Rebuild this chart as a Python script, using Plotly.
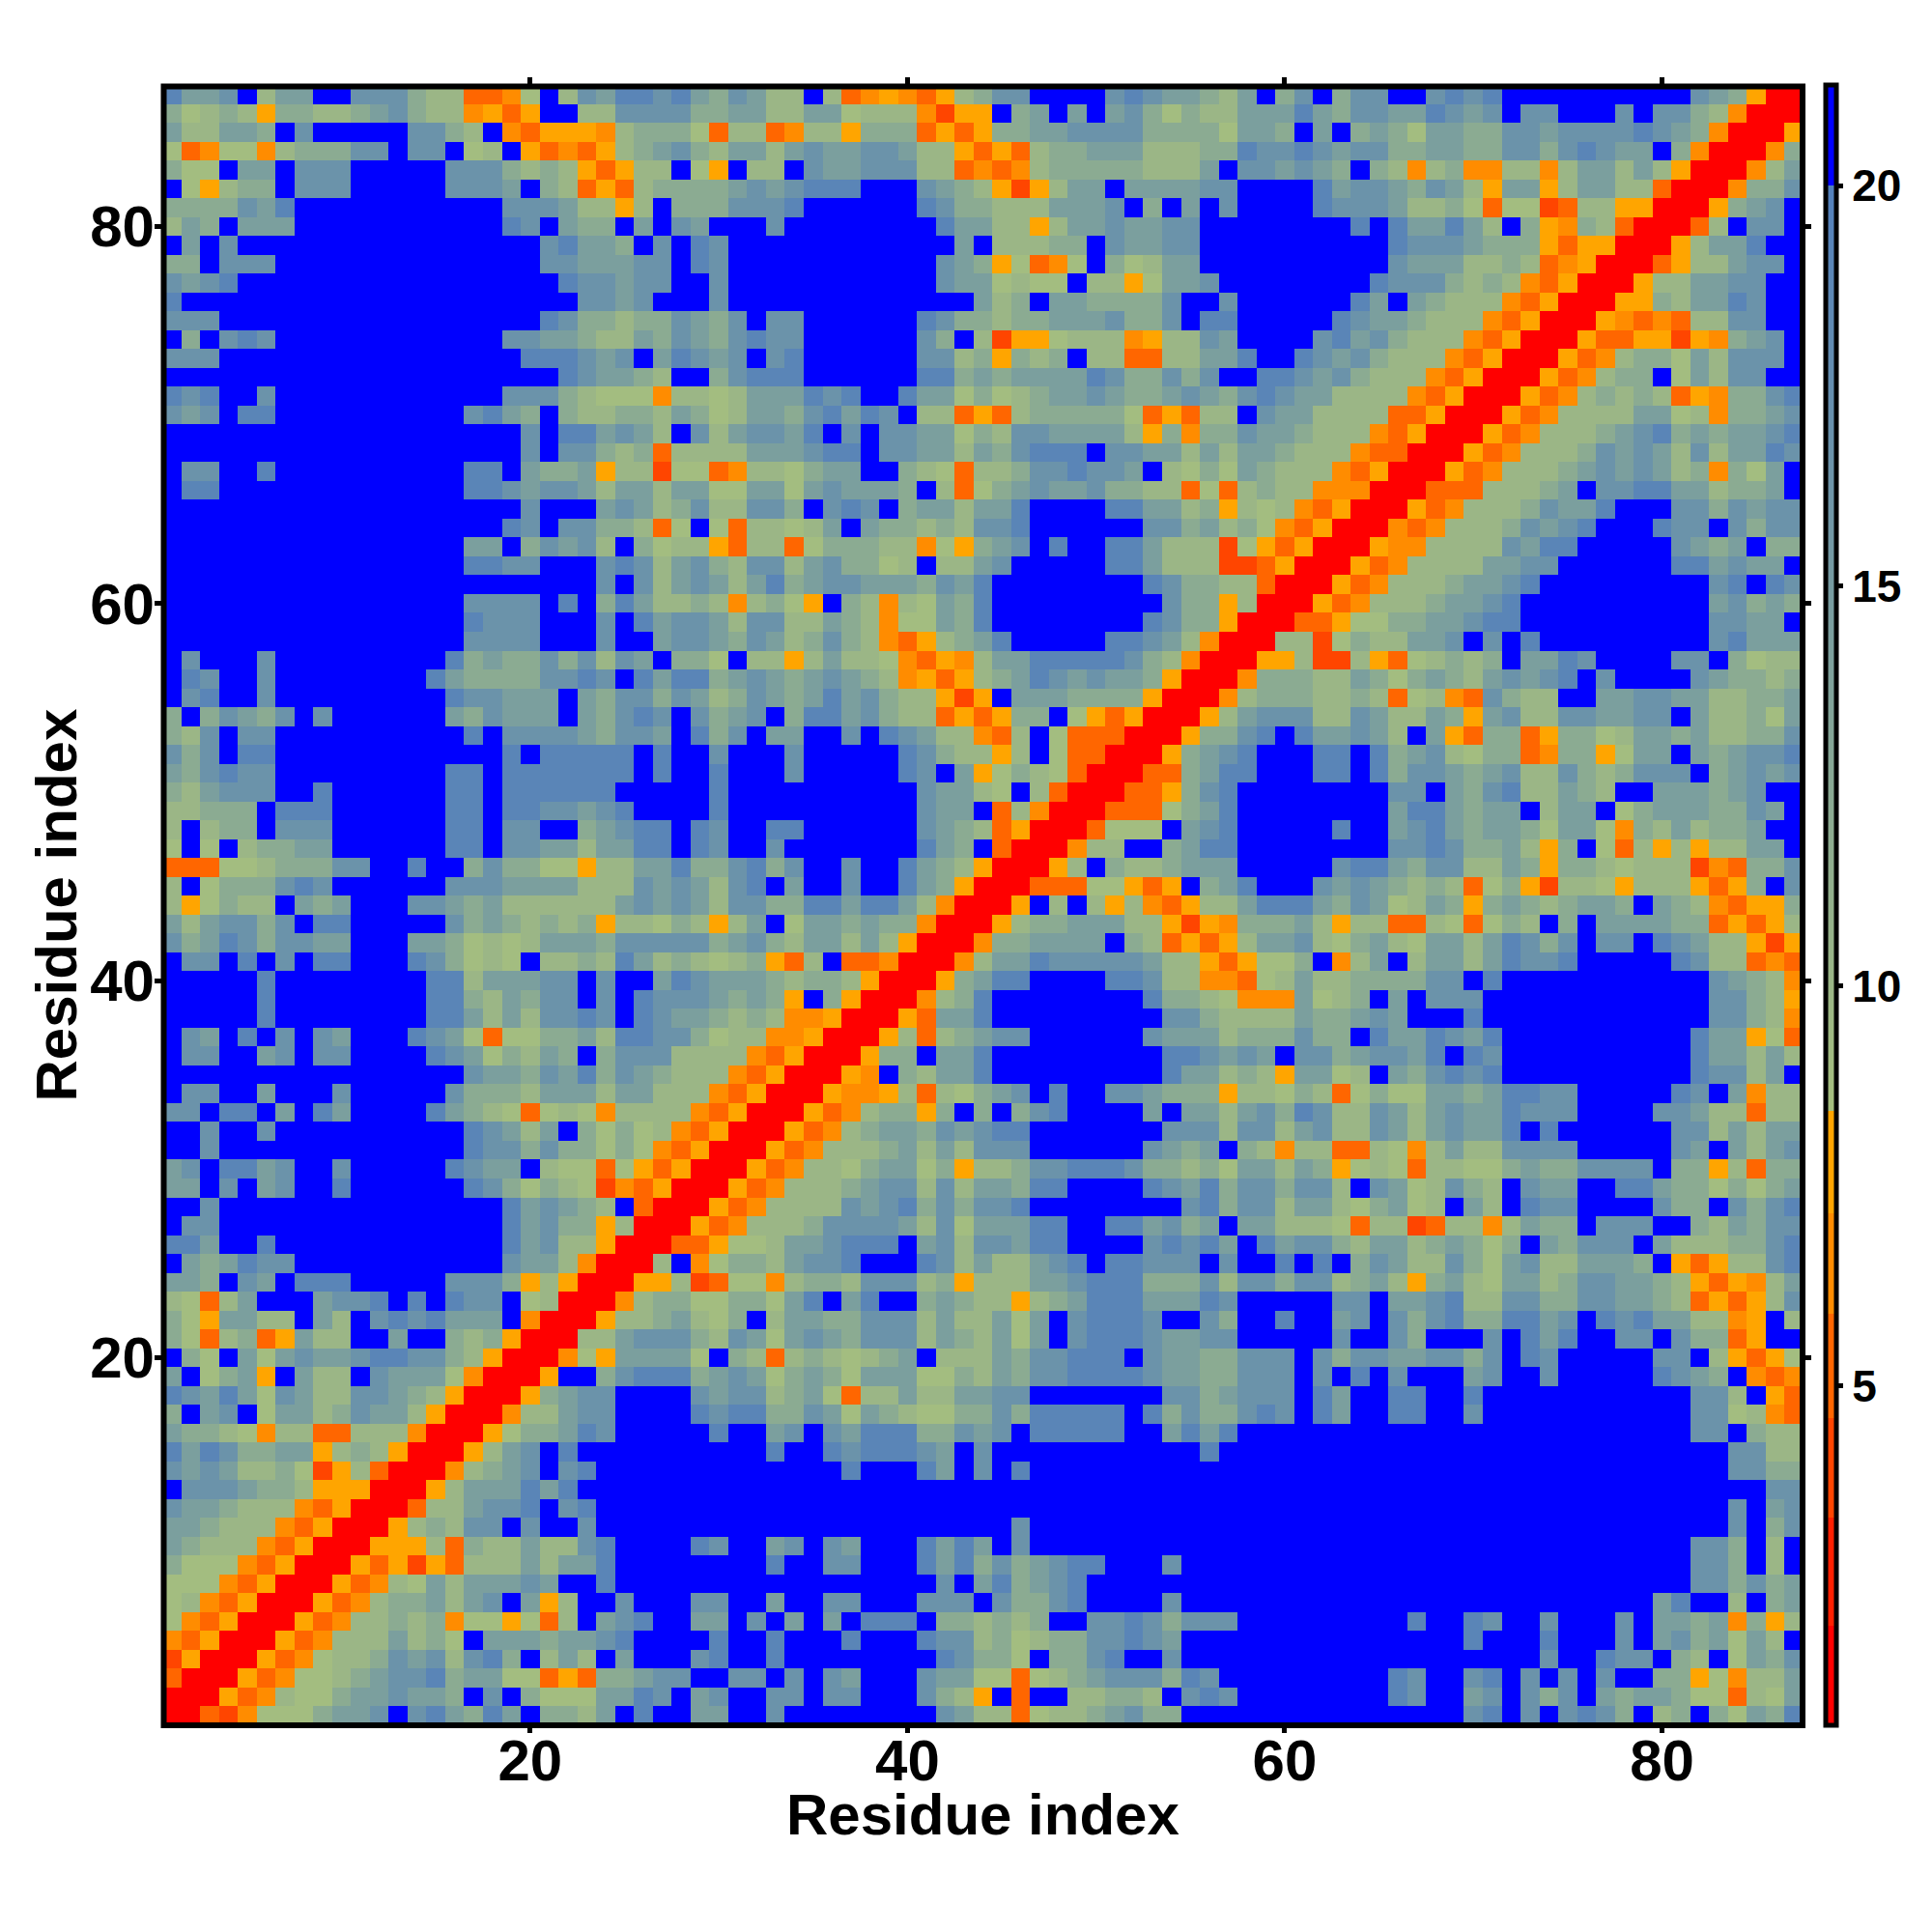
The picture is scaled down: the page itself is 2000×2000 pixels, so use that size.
import re
import plotly.graph_objects as go

residues = list(range(1, 88))
tick_vals = [20, 40, 60, 80]
colorbar_ticks = [5, 10, 15, 20]
z_range = [0.76, 21.26]

# Distance classes (angstrom-like values of the colour bar)
class_values = {"R": 1.4, "q": 4.0, "r": 5.2, "o": 6.5, "y": 7.8,
                "a": 8.8, "b": 10.0, "c": 12.2, "d": 14.4, "e": 16.6, "f": 19.0, "B": 21.0}

# Colour bands of the bar: (upper limit, colour)
band_limits = [2.0, 3.35, 4.6, 5.9, 7.16, 8.44]
band_colors = ["#ff0000", "#ff2000", "#ff4500", "#ff6600", "#ff8c00", "#ffa500"]
green_start = "#a6bf7e"
steel_end = "#5380bc"
blue_top = "#0000ff"
blue_from = 20.0

# Rows 87 down to 1, columns 1..row; letter + repeat count. The matrix is symmetric.
rows_top_down = [
 "f d2 e B b d2 B2 e3 c b2 r2 o a B b e d f2 e f d c e d b2 B b r o y o r y b c e2 B4 e f e d2 c b d B c e B c e2 B2 e f e f B10 e d c y R2",
 "c a b c b y c2 b2 c d e c b2 o y r y B2 b2 e4 c c d2 b2 d2 a b3 o q y2 B c d B d B d e c a c b2 d d2 f d c e2 d2 f e d e B e2 B3 e B e2 c b o R2",
 "d b2 d2 c B e B5 e2 c b B o r y3 o b c3 a r b2 r o b2 y c3 r y r y c2 d2 e4 c4 a d d c B d B c d c a d2 c2 e2 d e e3 f e d c o R2",
 "a r o a2 o b c3 e2 B e2 B a b B y r o r y b c d e c b d2 b d e d2 e2 d b2 y r y r b c2 d3 b3 c2 f e2 f e d e2 c2 d2 c2 e2 c e f e d2 B c o R2",
 "c a2 B d2 B e3 B5 e3 c b c b y r y b2 B a y B b2 B e d2 e3 b2 r o r o b c5 b3 d B e e d e d c B c b o b c o2 b2 o b d2 b d b y R2",
 "B a y b c2 B e3 B5 e3 d B c b r y r b c3 c d e d e f3 B3 e d c b y q y b d2 B d4 e2 B B3 f d e2 d c e d b y d2 y b d2 b2 r R2",
 "c4 e d f B11 e3 d b2 y b B c2 c e3 f B6 f e c2 b3 d3 e B c B d B e B B3 f e3 d b2 c a r a2 q r b2 y2 R2",
 "b d c B d3 B11 f e B d c2 B d B e d B3 e B8 f d2 b2 y b d2 e d2 e2 B3 B5 f B f d2 f d b B c y o c b r R2",
 "B d B e B16 e f d2 c B e B f e B12 d B b3 c2 B e d2 e2 B3 B7 f e2 e d c3 y r y2 R2",
 "c2 B e3 B14 e2 d3 e2 B f e B11 e d c y a r o a B c a b d2 B3 B7 e d3 b2 c b r o y R2",
 "e d e f B17 f e2 d e2 B2 e B11 e d2 a b a2 B b2 y a d2 e B2 B6 f e3 c b c b o r y R2",
 "f B21 e2 d e B3 e B13 d b c B d2 c2 c2 e B2 e B B5 f d B d c b3 o r y R2",
 "e3 B17 f e c2 b c2 e d c e B e2 B6 f e c2 b c2 d3 e c2 e B f2 B B4 f e d2 c b3 o r y R2",
 "B c B e f e B12 e2 d2 c b2 d c e d c e f e2 B6 e c B b q y2 a b3 o y b2 e d B B3 e f d e c b3 o r y R2",
 "e3 B16 f3 e d e B d f e d e B e f B6 e2 b c y c b c B b2 r2 b2 d2 f B2 f e d e c b3 o r y R2",
 "B21 f e d2 c b B2 c e f3 B6 f2 c d c d4 f e c2 e c e B2 f2 e d e c b3 o r y R2",
 "f e f B2 e B12 e3 c b a3 o b2 a b d3 f e f B2 f d2 a c a b c d2 e d c2 d e d c e f e d2 b4 o r y R2",
 "e d e B f2 B10 e f d c B c b2 c2 b d c a b d2 c e f d f e B b2 r y r b c5 a r y r b2 B e d2 b4 r2 y R2",
 "B19 e B f2 d e d b B e b d e2 d f B e B e2 d2 a c b e2 d4 b y c o c2 e d2 c b3 o r y R2",
 "B19 e B e2 c b c r b2 b2 d3 e f2 B e2 d2 b d c e f3 B e2 d2 b d b d d c b3 o r2 R2",
 "B e2 B2 f B10 f2 B d c2 d y b2 q a2 r o b2 a c d2 B2 c b a r b2 c e2 f e e d B b a c a d c b3 o r y R2",
 "B f2 B13 f2 e d e2 d b d2 b d2 a2 d2 a d e d3 c B b r a c d e d2 e c2 b2 r a r b c b2 o3 R2",
 "B19 e B3 d e d b c e b2 e2 c B e f e B c d2 b d2 f B4 f2 d2 b c y b a b o r y R2",
 "B18 f e B e2 c2 b r a B a r b2 a b d B d c2 b c b e2 f B6 e2 c d b c a o r y R2",
 "B16 d2 B c e d e b B c a b2 y r b2 r a c3 b2 o a y c d e B f B2 f2 d b3 q a y r y R2",
 "B16 f2 e2 B3 e f e b d e c b e2 b d e c2 a b B b2 d e B5 f2 d b3 q2 r y R2",
 "B23 e B e b d e d b d f c d e2 d3 c e d f B8 f e c2 b2 r R2",
 "B16 e4 B f B c f d b2 c b o b c a y B c b o b a d c f B9 e c2 y b R2",
 "B16 f e3 B3 e B f d e2 d b e2 b2 d c b o a2 d c f B8 f e c2 y R2",
 "B16 e4 B3 e B2 d e2 d c e d b c e c b o r y b c d f B5 f2 e d b o R2",
 "B e B3 e B9 f c d c2 e c e b e d B c2 a B b2 y b d b2 a o r y o b d2 f5 e c b o R2",
 "B f e B2 e B8 f d c4 e2 f e B f d f2 c d e d c d e d c b o y r y b c d f e d e d2 c y R2",
 "B e f B2 e B9 f e2 d3 B d c e2 c e d b c e d c d f d e c b2 y q y B d3 c4 y R2",
 "c B c e d c e B e B6 d c e d3 B d c e f e B e c d e B c f2 d e c b2 r y r y c2 B a y r y R2",
 "c b e B e2 B10 f B e4 d c e2 d B f c e B d2 B2 e B f e d b2 o r b B a r3 R2",
 "e c e B f2 B12 f B f5 B f B2 e B3 e B5 f e c b2 y b B a r2 R2",
 "d c e f e2 B9 f2 B f7 B f B2 f B3 e B5 f e B d y a c b a r R2",
 "c b d e3 B2 f B6 f2 B f6 B5 f B10 e d2 b a B b r R2",
 "b2 c3 B f3 B6 f2 B f2 e2 d e f B4 f B10 e d2 B r b o R2",
 "b B b c2 B e3 B6 f2 B e2 B2 c d e f2 B f e B2 f2 B6 e d c b r y R2",
 "a B a B b c2 d2 B6 f2 B e2 d2 b d2 f2 B f e B2 e B7 f d c B r R2",
 "r3 a2 b c2 c e2 B2 f B2 c e c2 a2 y b2 d2 f c c e f c e B2 e B2 f d c b y R2",
 "b B a c3 e f e B6 e3 d4 b3 e d e d b e f B d B2 e B2 f d c y R2",
 "b y a c b2 B d c d B3 e2 d c d b6 d e d e d b e2 c2 f2 d f2 d b o R2",
 "d b d e2 c e B f2 B5 e c d c b c b c y b2 a c b y b d B a d2 c d c2 o R2",
 "e c d f e c e2 d2 B3 d2 c a b a b d3 c e5 c d e c b d2 b d b y R2",
 "B e2 B f B e B f2 B3 f e c a b a B b2 c b f d b c b a b c y r b B r2 o R2",
 "B5 f B8 f2 b d3 e2 B e B2 d f e d3 c b c2 b y R2",
 "B5 f B8 f2 c b d c e2 B e B f e3 d c d c y B c y R2",
 "B5 f B8 f2 d b d b e2 f e B f e d2 c b c b o2 y R2",
 "B e d B f B e B e d B3 f e d a r a2 c2 d b f2 e2 c a b2 o2 y R2",
 "B e2 B2 d e B e2 B4 f e d a c b d c B c e3 b2 b2 o r y R2",
 "B16 e d2 c e d f c e d c b2 b o r y R2",
 "B e2 B2 d B3 e B5 e c3 b d3 b d2 b3 o r y R2",
 "e2 B f2 B d B f d B4 f d c b a r a b a o b4 o r y R2",
 "B2 e B2 e B10 f e d b d B c a c a b o r y R2",
 "B2 e B13 f e2 c e c2 a c a o r y R2",
 "d e B f2 d e B2 e B5 f e d2 B b a2 r a y r y R R",
 "d2 B e B d e B2 f B6 f e c a c b a q o r y R2",
 "B2 e B15 f d e d c b B r R2",
 "B e2 B15 f d e c2 y b R2",
 "f2 d B2 f B12 f d e b2 y R2",
 "B d c d f e2 B11 e d2 b o R2",
 "d2 c B e d B f3 B5 e3 c y b y R2",
 "b a r b d B3 d e2 f B f B f e2 B a b R2",
 "c a y d2 b2 B d b B e f e f d3 B o R2",
 "c a r b c r y d b2 B2 d B2 c b c y R2",
 "B c a B d a d e d2 e f2 e2 c b y R2",
 "d B a c d y B d b2 B e d2 d a o R2",
 "f e d f d a e d b2 e2 d c b y R2",
 "c B d e B a d2 b c e d2 b y R2",
 "d c2 b a o b2 r2 b3 o R2",
 "f d f e c2 d2 y b c b y R2",
 "e d e d b2 c a q y b r R2",
 "B e2 e d c c b y3 R2",
 "e d2 c b3 o r y R2",
 "d2 c b3 o r y R2",
 "d c b3 o r y R2",
 "c a3 o r y R2",
 "a3 o r y R2",
 "a b o r y R2",
 "a o r y R2",
 "o r y R2",
 "q y R2",
 "r R2",
 "R2",
 "R",
]


def decode(row_text):
    cells = []
    for letter, count in re.findall(r"([A-Za-z])(\d*)", row_text):
        cells += [class_values[letter]] * (int(count) if count else 1)
    return cells


n = len(residues)
z = [[0.0] * n for _ in range(n)]
bad = []
for position, text in enumerate(rows_top_down):
    row_number = n - position
    cells = decode(text)
    if len(cells) != row_number:
        bad.append((row_number, len(cells)))
    for col_index, value in enumerate(cells[:row_number]):
        z[row_number - 1][col_index] = value
        z[col_index][row_number - 1] = value
if bad:
    raise ValueError(f"bad rows: {bad}")


def frac(v):
    return (v - z_range[0]) / (z_range[1] - z_range[0])


colorscale = []
lower = z_range[0]
for limit, color in zip(band_limits, band_colors):
    colorscale += [[frac(lower), color], [frac(limit), color]]
    lower = limit
colorscale += [[frac(lower), green_start], [frac(blue_from), steel_end],
               [frac(blue_from), blue_top], [1.0, blue_top]]

bold = dict(family="Liberation Sans", color="black", weight=700)
PAGE = 8  # the browser page adds this offset around the figure
W, H = 2000, 2000
L, T = 168 - PAGE, 88 - PAGE
R, B = 2000 - 1867 + PAGE, 2000 - 1786 + PAGE
PW, PH = W - L - R, H - T - B


def px(x):
    return (x - PAGE - L) / PW


def py(y):
    return 1 - (y - PAGE - T) / PH


fig = go.Figure(go.Heatmap(
    x=residues, y=residues, z=z, zmin=z_range[0], zmax=z_range[1],
    colorscale=colorscale, hoverongaps=False,
    colorbar=dict(
        thicknessmode="pixels", thickness=11, lenmode="fraction", len=1.0,
        x=px(1890.5), xanchor="left", xpad=0,
        y=0, yanchor="bottom", ypad=0,
        outlinewidth=5, outlinecolor="black", borderwidth=0,
        tickmode="array", tickvals=colorbar_ticks,
        ticks="outside", ticklen=5, tickwidth=5, tickcolor="black",
        tickfont=dict(size=46, **bold),
    ),
))

axis_common = dict(
    range=[0.5, 87.5], tickmode="array", tickvals=tick_vals,
    ticks="outside", ticklen=7, tickwidth=5, tickcolor="black",
    mirror="allticks", showline=False, showgrid=False, zeroline=False,
    tickfont=dict(size=60, **bold),
)
fig.update_layout(
    width=W, height=H, autosize=False,
    margin=dict(l=L, r=R, t=T, b=B, autoexpand=False),
    paper_bgcolor="white", plot_bgcolor="white",
    xaxis=dict(ticklabelstandoff=-23, **axis_common),
    yaxis=dict(ticklabelstandoff=-12, **axis_common),
    shapes=[dict(type="rect", xref="paper", yref="paper",
                 x0=px(169.5), x1=px(1866), y0=py(1786), y1=py(89.5),
                 line=dict(color="black", width=6), layer="above")],
    annotations=[
        dict(text="Residue index", xref="paper", yref="paper",
             x=px(1018), y=py(1878), xanchor="center", yanchor="middle",
             showarrow=False, font=dict(size=60, **bold)),
        dict(text="Residue index", xref="paper", yref="paper",
             x=px(57.5), y=py(937), xanchor="center", yanchor="middle",
             textangle=-90, showarrow=False, font=dict(size=60, **bold)),
    ],
)
fig.write_html("out.html")
